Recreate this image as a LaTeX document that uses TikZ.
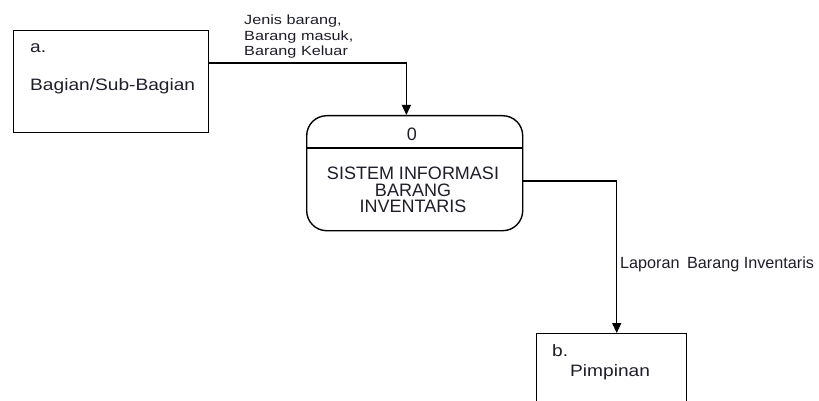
\documentclass[tikz,border=0pt]{standalone}
\usepackage{fontspec}
\setmainfont{Liberation Sans}
\newfontfamily\lblfont[FakeStretch=1.22]{Liberation Sans}
\newfontfamily\boxfont[FakeStretch=1.16]{Liberation Sans}
\usetikzlibrary{arrows.meta,positioning}
\definecolor{txt}{HTML}{1E1E2A}
\begin{document}
\begin{tikzpicture}[x=1pt,y=-1pt,
  ext/.style={draw=black,line width=1.4pt,rectangle,inner sep=0pt,anchor=north west},
  arr/.style={draw=black,line width=1.3pt,-{Triangle[length=10pt,width=9pt]}},
  lbl/.style={anchor=base west,inner sep=0pt,text=txt,font=\lblfont\fontsize{13.3}{15.5}\selectfont},
  lap/.style={anchor=base west,inner sep=0pt,text=txt,font=\fontsize{16.2}{18}\selectfont},
  bx/.style={anchor=base west,inner sep=0pt,text=txt,font=\boxfont\fontsize{16.5}{19}\selectfont},
  pt/.style={anchor=base,inner sep=0pt,text=txt,font=\fontsize{18}{16.5}\selectfont,align=center}]
\useasboundingbox (0,0) rectangle (819,401);
\clip (0,0) rectangle (819,401);
% box a
\node[ext,minimum width=195pt,minimum height=102pt] (a) at (13,30) {};
\node[bx] (ta) at (30,53) {a.};
\node[bx] (tab) at (30,91) {Bagian/Sub-Bagian};
% process
\node[ext,rounded corners=20pt,minimum width=216pt,minimum height=115pt] (p) at (306,115) {};
\coordinate (pl) at (306,148);
\coordinate (pr) at (522,148);
\draw[line width=1.4pt] (pl) -- (pr);
\node[pt] (p0) at (412,141) {0};
\node[pt,anchor=north] (pt1) at (413,167) {SISTEM INFORMASI\\BARANG\\INVENTARIS};
% box b
\node[ext,minimum width=150pt,minimum height=80pt] (b) at (536,333) {};
\node[bx] (tb) at (552,356.7) {b.};
\node[bx] (tbp) at (570,376.7) {Pimpinan};
% connectors
\coordinate (a1) at (208,63);
\coordinate (p1) at (522,181);
\draw[arr] (a1) -| ([xshift=-8.3pt]p.north);
\draw[arr] (p1) -| ([xshift=5pt]b.north);
% labels
\node[lbl] (l1a) at (244,25) {Jenis barang,};
\node[lbl] (l1b) at (244,41) {Barang masuk,};
\node[lbl] (l1c) at (244,56) {Barang Keluar};
\node[lap] (l2) at (620,268.7) {Laporan\hspace{3pt} Barang Inventaris};
\end{tikzpicture}
\end{document}
